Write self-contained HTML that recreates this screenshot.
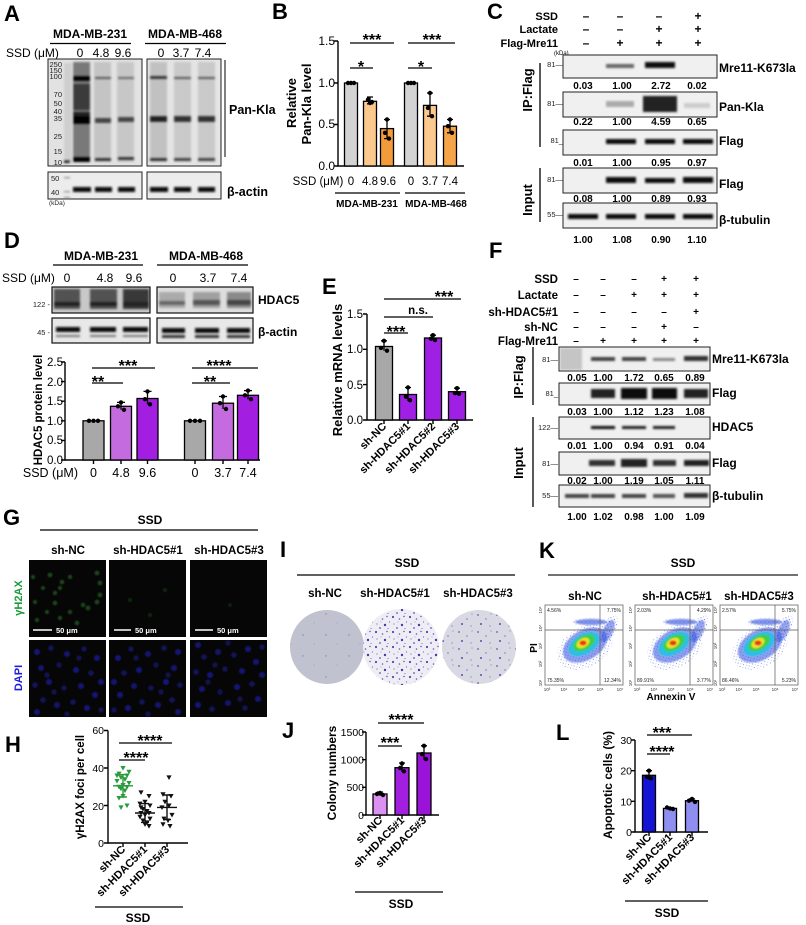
<!DOCTYPE html>
<html><head><meta charset="utf-8">
<style>
html,body{margin:0;padding:0;background:#fff;}
svg{display:block;font-family:"Liberation Sans",Arial,sans-serif;}
.b{font-weight:bold}
</style></head><body>
<svg width="806" height="925" viewBox="0 0 806 925" xmlns="http://www.w3.org/2000/svg">
<defs>
<filter id="f1" x="-50%" y="-100%" width="200%" height="300%"><feGaussianBlur stdDeviation="1.1"/></filter>
<filter id="f2" x="-50%" y="-50%" width="200%" height="200%"><feGaussianBlur stdDeviation="2.2"/></filter>
<filter id="f3" x="-50%" y="-50%" width="200%" height="200%"><feGaussianBlur stdDeviation="0.7"/></filter>
<path id="tri" d="M-2.6,-2 L2.6,-2 L0,2.6 Z"/>
<pattern id="pd1" width="17" height="15" patternUnits="userSpaceOnUse">
<circle cx="2" cy="2" r="1.1" fill="#5a3fb8"/><circle cx="8.5" cy="4" r="0.8" fill="#6b4fc8"/><circle cx="3" cy="9" r="0.6" fill="#7a60d0"/><circle cx="13" cy="1.5" r="0.7" fill="#5a3fb8"/><circle cx="11" cy="10" r="1.2" fill="#4e35a8"/><circle cx="15.5" cy="7" r="0.6" fill="#7a60d0"/><circle cx="6" cy="13" r="0.9" fill="#6b4fc8"/><circle cx="14" cy="13.5" r="0.5" fill="#5a3fb8"/><circle cx="7" cy="7" r="0.4" fill="#5a3fb8"/>
</pattern>
<pattern id="pd2" width="19" height="17" patternUnits="userSpaceOnUse">
<circle cx="3" cy="3" r="0.9" fill="#6a55c0"/><circle cx="11" cy="7" r="0.7" fill="#7a66cc"/><circle cx="16" cy="2" r="0.5" fill="#6a55c0"/><circle cx="6" cy="12" r="1" fill="#5d48b8"/><circle cx="15" cy="14" r="0.6" fill="#7a66cc"/>
</pattern>
<pattern id="pd3" width="23" height="21" patternUnits="userSpaceOnUse">
<circle cx="4" cy="5" r="0.7" fill="#7a70b8"/><circle cx="15" cy="14" r="0.5" fill="#8a80c0"/>
</pattern>
<pattern id="fd" width="4" height="4" patternUnits="userSpaceOnUse"><circle cx="1" cy="1" r="0.45" fill="#2a3fd8"/><circle cx="3" cy="3" r="0.35" fill="#2a3fd8"/></pattern>
<g id="dapi" fill="#2222c8" filter="url(#f3)">
<circle cx="8" cy="12" r="3" opacity=".6"/><circle cx="22" cy="8" r="2.8" opacity=".45"/><circle cx="38" cy="14" r="3" opacity=".55"/><circle cx="55" cy="9" r="2.6" opacity=".45"/><circle cx="68" cy="18" r="3" opacity=".6"/><circle cx="12" cy="28" r="3" opacity=".55"/><circle cx="30" cy="25" r="2.7" opacity=".4"/><circle cx="47" cy="30" r="3" opacity=".6"/><circle cx="62" cy="33" r="2.8" opacity=".45"/><circle cx="72" cy="42" r="3" opacity=".55"/><circle cx="6" cy="45" r="2.8" opacity=".45"/><circle cx="20" cy="42" r="3" opacity=".6"/><circle cx="35" cy="48" r="2.6" opacity=".45"/><circle cx="52" cy="46" r="3" opacity=".55"/><circle cx="66" cy="55" r="3" opacity=".6"/><circle cx="14" cy="60" r="2.8" opacity=".45"/><circle cx="28" cy="65" r="3" opacity=".55"/><circle cx="44" cy="62" r="2.8" opacity=".45"/><circle cx="58" cy="68" r="3" opacity=".6"/><circle cx="72" cy="70" r="2.6" opacity=".45"/><circle cx="8" cy="72" r="3" opacity=".55"/><circle cx="38" cy="74" r="2.6" opacity=".4"/><circle cx="25" cy="52" r="2.6" opacity=".4"/><circle cx="50" cy="18" r="2.6" opacity=".4"/><circle cx="18" cy="35" r="2.6" opacity=".4"/>
</g>
<g id="flow">
<rect x="0" y="0" width="78" height="80" fill="#fff" stroke="#666" stroke-width="0.8"/>
<ellipse cx="40" cy="42" rx="30" ry="20" transform="rotate(-30 40 42)" fill="url(#fd)" opacity=".8"/>
<ellipse cx="46" cy="17" rx="20" ry="4" fill="url(#fd)"/>
<ellipse cx="64" cy="24" rx="7" ry="15" transform="rotate(25 64 24)" fill="url(#fd)"/>
<g filter="url(#f3)">
<ellipse cx="40" cy="40" rx="24" ry="15" transform="rotate(-30 40 40)" fill="#2f4fe0" opacity=".55"/>
<ellipse cx="46" cy="17" rx="16" ry="3" fill="#2f4fe0" opacity=".6"/>
<ellipse cx="63" cy="26" rx="5" ry="12" transform="rotate(25 63 26)" fill="#2f4fe0" opacity=".5"/>
<ellipse cx="39" cy="39" rx="17" ry="10" transform="rotate(-30 39 39)" fill="#1ec6e6" opacity=".85"/>
<ellipse cx="39" cy="38" rx="12" ry="7" transform="rotate(-30 39 38)" fill="#3ed04a"/>
<ellipse cx="38" cy="38" rx="7" ry="4.5" transform="rotate(-30 38 38)" fill="#f0e024"/>
<ellipse cx="38" cy="38" rx="3.5" ry="2.5" fill="#e83a14"/>
</g>
<line x1="55" y1="0" x2="55" y2="80" stroke="#555" stroke-width="0.7"/>
<line x1="0" y1="25" x2="78" y2="25" stroke="#555" stroke-width="0.7"/>
</g>
</defs>
<rect width="806" height="925" fill="#fff"/>

<!-- ================= A ================= -->
<text x="4" y="21" font-size="22" class="b">A</text>
<text x="90" y="38" text-anchor="middle" font-size="12" class="b">MDA-MB-231</text>
<line x1="50" y1="43.5" x2="131" y2="43.5" stroke="#000" stroke-width="1.3"/>
<text x="185" y="38" text-anchor="middle" font-size="12" class="b">MDA-MB-468</text>
<line x1="145" y1="43.5" x2="226" y2="43.5" stroke="#000" stroke-width="1.3"/>
<g font-size="12">
<text x="6" y="57">SSD (μM)</text>
<text x="80" y="57" text-anchor="middle">0</text><text x="101" y="57" text-anchor="middle">4.8</text><text x="123" y="57" text-anchor="middle">9.6</text>
<text x="161" y="57" text-anchor="middle">0</text><text x="181" y="57" text-anchor="middle">3.7</text><text x="203" y="57" text-anchor="middle">7.4</text>
</g>
<rect x="48" y="59" width="94" height="107" fill="#e2e2e2" stroke="#222" stroke-width="1"/>
<rect x="147" y="59" width="74" height="107" fill="#e4e4e4" stroke="#222" stroke-width="1"/>
<g filter="url(#f1)">
<rect x="64" y="63" width="8" height="100" fill="#bbb" opacity=".5"/>
<rect x="73" y="62" width="17" height="100" fill="#333" opacity=".6"/>
<rect x="94" y="62" width="17" height="100" fill="#777" opacity=".28"/>
<rect x="117" y="62" width="17" height="100" fill="#777" opacity=".25"/>
<rect x="150" y="62" width="17" height="100" fill="#777" opacity=".32"/>
<rect x="174" y="62" width="17" height="100" fill="#777" opacity=".25"/>
<rect x="198" y="62" width="17" height="100" fill="#777" opacity=".25"/>
<rect x="73" y="76" width="17" height="5" fill="#000"/>
<rect x="73" y="84" width="17" height="26" fill="#222" opacity=".7"/>
<rect x="73" y="112" width="17" height="4" fill="#222"/>
<rect x="73" y="116" width="17" height="8" fill="#000"/>
<rect x="73" y="157" width="17" height="5" fill="#000"/>
<rect x="95" y="77" width="16" height="2" fill="#555"/>
<rect x="95" y="118" width="16" height="5" fill="#444"/>
<rect x="95" y="158" width="16" height="3" fill="#333"/>
<rect x="118" y="77" width="16" height="2" fill="#666"/>
<rect x="118" y="117" width="16" height="5" fill="#444"/>
<rect x="118" y="157" width="16" height="3" fill="#333"/>
<rect x="150" y="76" width="17" height="3" fill="#333"/>
<rect x="150" y="116" width="17" height="6" fill="#222"/>
<rect x="150" y="158" width="17" height="3" fill="#333"/>
<rect x="174" y="77" width="17" height="2" fill="#555"/>
<rect x="174" y="116" width="17" height="6" fill="#333"/>
<rect x="174" y="158" width="17" height="3" fill="#444"/>
<rect x="198" y="77" width="17" height="2" fill="#555"/>
<rect x="198" y="116" width="17" height="6" fill="#333"/>
<rect x="198" y="158" width="17" height="3" fill="#444"/>
<rect x="64" y="160" width="6" height="3" fill="#222"/>
</g>
<g font-size="7.5" text-anchor="end" fill="#222">
<text x="62" y="67">250</text><text x="62" y="73">150</text><text x="62" y="79">100</text><text x="62" y="97">70</text><text x="62" y="106">50</text><text x="62" y="114">40</text><text x="62" y="121">35</text><text x="62" y="139">25</text><text x="62" y="154">15</text><text x="62" y="165">10</text>
</g>
<line x1="225" y1="60" x2="225" y2="157" stroke="#000" stroke-width="1"/>
<text x="229" y="114" font-size="12.5" class="b">Pan-Kla</text>
<rect x="48" y="172" width="94" height="27" fill="#ececec" stroke="#222" stroke-width="1"/>
<rect x="147" y="172" width="74" height="27" fill="#ececec" stroke="#222" stroke-width="1"/>
<g filter="url(#f1)">
<rect x="73" y="187" width="18" height="5" fill="#111"/><rect x="95" y="187" width="17" height="5" fill="#111"/><rect x="118" y="187" width="17" height="5" fill="#111"/>
<rect x="150" y="187" width="18" height="5" fill="#111"/><rect x="174" y="187" width="17" height="5" fill="#111"/><rect x="198" y="187" width="17" height="5" fill="#111"/>
<rect x="64" y="177" width="6" height="1.5" fill="#999"/><rect x="64" y="191" width="6" height="1.5" fill="#999"/><rect x="64" y="197" width="6" height="1.5" fill="#888"/>
</g>
<g font-size="7.5" fill="#222"><text x="51" y="181">50</text><text x="51" y="195">40</text><text x="49" y="205" font-size="6.5">(kDa)</text></g>
<text x="227" y="196" font-size="12.5" class="b">β-actin</text>

<!-- ================= B ================= -->
<text x="272" y="19" font-size="22" class="b">B</text>
<g class="b" font-size="13">
<text transform="translate(296,103) rotate(-90)" text-anchor="middle">Relative</text>
<text transform="translate(311,104) rotate(-90)" text-anchor="middle">Pan-Kla level</text>
</g>
<g font-size="12" text-anchor="end"><text x="335" y="45">1.5</text><text x="335" y="87">1.0</text><text x="335" y="128">0.5</text><text x="335" y="170">0.0</text></g>
<g stroke="#000" stroke-width="1.4" fill="none">
<path d="M338,41 V166 H464"/>
<path d="M334,41 H338 M334,83 H338 M334,124.5 H338 M334,166 H338"/>
</g>
<g stroke="#000" stroke-width="1.3">
<rect x="344.5" y="83" width="13" height="83" fill="#d3d3d3"/>
<rect x="363.5" y="101.3" width="13" height="64.7" fill="#fbc98e"/>
<rect x="380.5" y="128.6" width="13" height="37.4" fill="#f39b3a"/>
<rect x="404.5" y="83" width="13" height="83" fill="#d3d3d3"/>
<rect x="423.5" y="105.4" width="13" height="60.6" fill="#fbc98e"/>
<rect x="443.5" y="126.2" width="13" height="39.8" fill="#f5a447"/>
<path d="M370,97 V103.8 M367,97 H373 M367,103.8 H373 M387,119.5 V138.6 M384,119.5 H390 M384,138.6 H390 M430,93 V116.2 M427,93 H433 M427,116.2 H433 M450,119.5 V132.8 M447,119.5 H453 M447,132.8 H453" fill="none"/>
</g>
<g fill="#000">
<circle cx="348" cy="83" r="2.2"/><circle cx="351" cy="83" r="2.2"/><circle cx="354" cy="83" r="2.2"/>
<circle cx="368" cy="99.6" r="2.2"/><circle cx="372" cy="102" r="2.2"/><circle cx="370" cy="103" r="2.2"/>
<circle cx="387" cy="119.5" r="2.2"/><circle cx="385" cy="132.8" r="2.2"/><circle cx="389" cy="138.6" r="2.2"/>
<circle cx="408" cy="83" r="2.2"/><circle cx="411" cy="83" r="2.2"/><circle cx="414" cy="83" r="2.2"/>
<circle cx="430" cy="93" r="2.2"/><circle cx="428" cy="107.9" r="2.2"/><circle cx="432" cy="116.2" r="2.2"/>
<circle cx="450" cy="119.5" r="2.2"/><circle cx="448" cy="126.2" r="2.2"/><circle cx="452" cy="132.8" r="2.2"/>
</g>
<g stroke="#000" stroke-width="1.3">
<line x1="350" y1="43" x2="394" y2="43"/><line x1="350" y1="68" x2="373" y2="68"/>
<line x1="408" y1="43" x2="455" y2="43"/><line x1="408" y1="68" x2="432" y2="68"/>
</g>
<g font-size="16" class="b" text-anchor="middle">
<text x="372" y="45">***</text><text x="361" y="72">*</text>
<text x="432" y="45">***</text><text x="421" y="72">*</text>
</g>
<g font-size="11.5" text-anchor="middle">
<text x="318" y="185">SSD (μM)</text>
<text x="351" y="185">0</text><text x="370" y="185">4.8</text><text x="388" y="185">9.6</text>
<text x="411" y="185">0</text><text x="430" y="185">3.7</text><text x="450" y="185">7.4</text>
</g>
<line x1="335" y1="193" x2="400" y2="193" stroke="#000" stroke-width="1.2"/>
<line x1="405" y1="193" x2="465" y2="193" stroke="#000" stroke-width="1.2"/>
<g font-size="10" class="b" text-anchor="middle"><text x="367" y="207">MDA-MB-231</text><text x="436" y="207">MDA-MB-468</text></g>

<!-- ================= C ================= -->
<text x="487" y="19" font-size="22" class="b">C</text>
<g font-size="11" class="b" text-anchor="end">
<text x="558" y="20">SSD</text><text x="558" y="33">Lactate</text><text x="558" y="47">Flag-Mre11</text>
</g>
<g font-size="12" class="b" text-anchor="middle">
<text x="586" y="20">–</text><text x="620" y="20">–</text><text x="659" y="20">–</text><text x="698" y="20">+</text>
<text x="586" y="33">–</text><text x="620" y="33">–</text><text x="659" y="33">+</text><text x="698" y="33">+</text>
<text x="586" y="47">–</text><text x="620" y="47">+</text><text x="659" y="47">+</text><text x="698" y="47">+</text>
</g>
<text x="554" y="55" font-size="6">(kDa)</text>
<g fill="#f0f0f0" stroke="#222" stroke-width="1">
<rect x="563" y="55" width="154" height="23"/>
<rect x="563" y="92" width="154" height="25"/>
<rect x="563" y="130" width="154" height="25"/>
<rect x="563" y="168" width="154" height="25"/>
<rect x="563" y="203" width="154" height="25"/>
</g>
<g filter="url(#f1)">
<rect x="606" y="64" width="28" height="4" fill="#666"/>
<rect x="645" y="62" width="30" height="6" fill="#111"/>
<rect x="606" y="101" width="28" height="6" fill="#aaa"/>
<rect x="643" y="96" width="34" height="16" fill="#222"/>
<rect x="684" y="103" width="26" height="5" fill="#ccc"/>
<rect x="606" y="139" width="30" height="5" fill="#111"/><rect x="645" y="139" width="30" height="5" fill="#111"/><rect x="683" y="139" width="30" height="5" fill="#111"/>
<rect x="606" y="177" width="30" height="6" fill="#111"/><rect x="645" y="178" width="30" height="5" fill="#111"/><rect x="683" y="177" width="30" height="6" fill="#111"/>
<rect x="568" y="214" width="30" height="5" fill="#111"/><rect x="606" y="214" width="30" height="5" fill="#111"/><rect x="645" y="214" width="30" height="5" fill="#111"/><rect x="683" y="214" width="30" height="5" fill="#111"/>
</g>
<g font-size="7.5" text-anchor="end" fill="#222">
<text x="563" y="67">81—</text><text x="563" y="106">81—</text><text x="563" y="143">81_</text><text x="563" y="182">81—</text><text x="563" y="217">55—</text>
</g>
<g font-size="12" class="b">
<text x="719" y="72">Mre11-K673la</text><text x="719" y="111">Pan-Kla</text><text x="719" y="145">Flag</text><text x="719" y="188">Flag</text><text x="719" y="224">β-tubulin</text>
</g>
<g font-size="10" class="b" text-anchor="middle">
<text x="583" y="89">0.03</text><text x="622" y="89">1.00</text><text x="661" y="89">2.72</text><text x="697" y="89">0.02</text>
<text x="583" y="125">0.22</text><text x="622" y="125">1.00</text><text x="661" y="125">4.59</text><text x="697" y="125">0.65</text>
<text x="583" y="166">0.01</text><text x="622" y="166">1.00</text><text x="661" y="166">0.95</text><text x="697" y="166">0.97</text>
<text x="583" y="202">0.08</text><text x="622" y="202">1.00</text><text x="661" y="202">0.89</text><text x="697" y="202">0.93</text>
<text x="583" y="243">1.00</text><text x="622" y="243">1.08</text><text x="661" y="243">0.90</text><text x="697" y="243">1.10</text>
</g>
<line x1="540" y1="63" x2="540" y2="147" stroke="#000" stroke-width="1.3"/>
<line x1="540" y1="168" x2="540" y2="222" stroke="#000" stroke-width="1.3"/>
<g font-size="13" class="b" text-anchor="middle">
<text transform="translate(532,90) rotate(-90)">IP:Flag</text>
<text transform="translate(532,200) rotate(-90)">Input</text>
</g>

<!-- ================= D ================= -->
<text x="4" y="248" font-size="22" class="b">D</text>
<text x="101" y="260" text-anchor="middle" font-size="12" class="b">MDA-MB-231</text>
<line x1="53" y1="265" x2="143" y2="265" stroke="#000" stroke-width="1.3"/>
<text x="206" y="260" text-anchor="middle" font-size="12" class="b">MDA-MB-468</text>
<line x1="157" y1="265" x2="248" y2="265" stroke="#000" stroke-width="1.3"/>
<g font-size="12">
<text x="2" y="282">SSD (μM)</text>
<text x="67" y="282" text-anchor="middle">0</text><text x="105" y="282" text-anchor="middle">4.8</text><text x="134" y="282" text-anchor="middle">9.6</text>
<text x="173" y="282" text-anchor="middle">0</text><text x="208" y="282" text-anchor="middle">3.7</text><text x="239" y="282" text-anchor="middle">7.4</text>
</g>
<rect x="52" y="287" width="98" height="26" fill="#c8c8c8" stroke="#111" stroke-width="1.2"/>
<rect x="157" y="287" width="96" height="26" fill="#dedede" stroke="#111" stroke-width="1.2"/>
<g filter="url(#f1)">
<rect x="54" y="289" width="26" height="20" fill="#333" opacity=".8"/>
<rect x="90" y="289" width="27" height="20" fill="#333" opacity=".8"/>
<rect x="123" y="289" width="26" height="20" fill="#222" opacity=".85"/>
<rect x="54" y="302" width="26" height="4" fill="#222"/><rect x="90" y="302" width="27" height="4" fill="#222"/><rect x="123" y="302" width="26" height="4" fill="#222"/>
<rect x="159" y="292" width="26" height="16" fill="#888" opacity=".6"/>
<rect x="193" y="292" width="27" height="16" fill="#777" opacity=".6"/>
<rect x="227" y="292" width="24" height="16" fill="#666" opacity=".7"/>
<rect x="159" y="301" width="26" height="4" fill="#666"/><rect x="193" y="300" width="27" height="5" fill="#555"/><rect x="227" y="300" width="24" height="5" fill="#444"/>
</g>
<rect x="52" y="318" width="98" height="25" fill="#e8e8e8" stroke="#111" stroke-width="1.2"/>
<rect x="157" y="318" width="96" height="25" fill="#e8e8e8" stroke="#111" stroke-width="1.2"/>
<g filter="url(#f1)">
<rect x="56" y="327" width="24" height="5" fill="#111"/><rect x="90" y="327" width="26" height="5" fill="#111"/><rect x="123" y="327" width="25" height="5" fill="#111"/>
<rect x="56" y="335" width="24" height="2" fill="#777"/><rect x="90" y="335" width="26" height="2" fill="#777"/><rect x="123" y="335" width="25" height="2" fill="#777"/>
<rect x="162" y="328" width="23" height="5" fill="#111"/><rect x="195" y="328" width="24" height="5" fill="#111"/><rect x="227" y="328" width="23" height="5" fill="#111"/>
<rect x="162" y="335" width="23" height="3" fill="#333"/><rect x="195" y="335" width="24" height="3" fill="#333"/><rect x="227" y="335" width="23" height="3" fill="#333"/>
</g>
<g font-size="7.5" text-anchor="end" fill="#222"><text x="50" y="307">122 -</text><text x="50" y="335">45 -</text></g>
<text x="258" y="304" font-size="12" class="b">HDAC5</text>
<text x="258" y="336" font-size="12" class="b">β-actin</text>
<text transform="translate(42,410) rotate(-90)" text-anchor="middle" font-size="11.5" class="b">HDAC5 protein level</text>
<g font-size="11.5" text-anchor="end"><text x="63" y="366">2.5</text><text x="63" y="386">2.0</text><text x="63" y="405">1.5</text><text x="63" y="425">1.0</text><text x="63" y="444">0.5</text><text x="63" y="464">0.0</text></g>
<g stroke="#000" stroke-width="1.4" fill="none">
<path d="M65,362 V460 H260"/>
<path d="M61,362 H65 M61,381.6 H65 M61,401.2 H65 M61,420.8 H65 M61,440.4 H65 M61,460 H65"/>
<path d="M93.5,460 V464 M121,460 V464 M147.5,460 V464 M195,460 V464 M223,460 V464 M248,460 V464"/>
</g>
<g stroke="#000" stroke-width="1.3">
<rect x="83" y="420.8" width="21" height="39.2" fill="#a8a8a8"/>
<rect x="110.5" y="406.3" width="21" height="53.7" fill="#c46be0"/>
<rect x="137" y="398.5" width="21" height="61.5" fill="#a21fe2"/>
<rect x="184.5" y="420.8" width="21" height="39.2" fill="#a8a8a8"/>
<rect x="212.5" y="403.2" width="21" height="56.8" fill="#c46be0"/>
<rect x="237.5" y="395.3" width="21" height="64.7" fill="#a21fe2"/>
<path d="M121,402.4 V409.8 M117,402.4 H125 M147.5,391.4 V404.3 M143.5,391.4 H151.5 M223,396.5 V409 M219,396.5 H227 M248,390.6 V399.2 M244,390.6 H252" fill="none"/>
</g>
<g fill="#000">
<circle cx="89" cy="420.8" r="2.2"/><circle cx="93.5" cy="420.8" r="2.2"/><circle cx="98" cy="420.8" r="2.2"/>
<circle cx="121" cy="402.4" r="2.2"/><circle cx="118" cy="406.3" r="2.2"/><circle cx="124" cy="409.8" r="2.2"/>
<circle cx="147.5" cy="391.4" r="2.2"/><circle cx="145" cy="399.2" r="2.2"/><circle cx="150" cy="404.3" r="2.2"/>
<circle cx="190" cy="420.8" r="2.2"/><circle cx="195" cy="420.8" r="2.2"/><circle cx="200" cy="420.8" r="2.2"/>
<circle cx="223" cy="396.5" r="2.2"/><circle cx="220" cy="403.2" r="2.2"/><circle cx="226" cy="409" r="2.2"/>
<circle cx="248" cy="390.6" r="2.2"/><circle cx="245" cy="395.3" r="2.2"/><circle cx="251" cy="399.2" r="2.2"/>
</g>
<g stroke="#000" stroke-width="1.3">
<line x1="92" y1="368" x2="155" y2="368"/><line x1="92" y1="383" x2="123" y2="383"/>
<line x1="192" y1="368" x2="258" y2="368"/><line x1="192" y1="383" x2="230" y2="383"/>
</g>
<g font-size="16" class="b" text-anchor="middle">
<text x="128" y="371">***</text><text x="98" y="387">**</text>
<text x="219" y="371">****</text><text x="210" y="387">**</text>
</g>
<g font-size="12.5" text-anchor="middle">
<text x="78" y="477" text-anchor="end">SSD (μM)</text>
<text x="93.5" y="477">0</text><text x="121" y="477">4.8</text><text x="147.5" y="477">9.6</text>
<text x="195" y="477">0</text><text x="223" y="477">3.7</text><text x="248" y="477">7.4</text>
</g>

<!-- ================= E ================= -->
<text x="322" y="294" font-size="22" class="b">E</text>
<text transform="translate(342,370) rotate(-90)" text-anchor="middle" font-size="13" class="b">Relative mRNA levels</text>
<g font-size="11.5" text-anchor="end"><text x="363" y="318">1.5</text><text x="363" y="353">1.0</text><text x="363" y="389">0.5</text><text x="363" y="424">0.0</text></g>
<g stroke="#000" stroke-width="1.4" fill="none">
<path d="M367,314 V420 H473"/>
<path d="M363,314 H367 M363,349.3 H367 M363,384.6 H367 M363,420 H367"/>
<path d="M384,420 V424 M408,420 V424 M433,420 V424 M457,420 V424"/>
</g>
<g stroke="#000" stroke-width="1.3">
<rect x="375.5" y="346.5" width="17" height="73.5" fill="#a8a8a8"/>
<rect x="399.5" y="394.5" width="17" height="25.5" fill="#a01fe4"/>
<rect x="424.5" y="338" width="17" height="82" fill="#a01fe4"/>
<rect x="448.5" y="391.7" width="17" height="28.3" fill="#a01fe4"/>
<path d="M384,340.8 V350.7 M381,340.8 H387 M408,387.5 V401 M405,387.5 H411 M433,335.2 V340.1 M430,335.2 H436 M457,388.2 V394.5 M454,388.2 H460" fill="none"/>
</g>
<g fill="#000">
<circle cx="384" cy="340.8" r="2.2"/><circle cx="381" cy="347.9" r="2.2"/><circle cx="387" cy="350.7" r="2.2"/>
<circle cx="408" cy="387.5" r="2.2"/><circle cx="406" cy="396.7" r="2.2"/><circle cx="410" cy="400.2" r="2.2"/>
<circle cx="433" cy="335.2" r="2.2"/><circle cx="431" cy="338.7" r="2.2"/><circle cx="435" cy="340.1" r="2.2"/>
<circle cx="457" cy="388.2" r="2.2"/><circle cx="455" cy="393.1" r="2.2"/><circle cx="459" cy="393.8" r="2.2"/>
</g>
<g stroke="#000" stroke-width="1.3">
<line x1="384" y1="299" x2="461" y2="299"/><line x1="384" y1="317" x2="433" y2="317"/><line x1="384" y1="333" x2="408" y2="333"/>
</g>
<g font-size="16" class="b" text-anchor="middle"><text x="444" y="302">***</text><text x="396" y="337">***</text></g>
<text x="418" y="314" font-size="11.5" class="b" text-anchor="middle">n.s.</text>
<g font-size="11" class="b" text-anchor="end">
<text transform="translate(387,427) rotate(-45)">sh-NC</text>
<text transform="translate(411,427) rotate(-45)">sh-HDAC5#1</text>
<text transform="translate(436,427) rotate(-45)">sh-HDAC5#2</text>
<text transform="translate(460,427) rotate(-45)">sh-HDAC5#3</text>
</g>

<!-- ================= F ================= -->
<text x="489" y="258" font-size="22" class="b">F</text>
<g font-size="11.5" class="b" text-anchor="end">
<text x="558" y="283">SSD</text><text x="558" y="299">Lactate</text><text x="558" y="316">sh-HDAC5#1</text><text x="558" y="331">sh-NC</text><text x="558" y="345">Flag-Mre11</text>
</g>
<g font-size="10" class="b" text-anchor="middle">
<text x="576" y="282">–</text><text x="603" y="282">–</text><text x="634" y="282">–</text><text x="664" y="282">+</text><text x="696" y="282">+</text>
<text x="576" y="298">–</text><text x="603" y="298">–</text><text x="634" y="298">+</text><text x="664" y="298">+</text><text x="696" y="298">+</text>
<text x="576" y="315">–</text><text x="603" y="315">–</text><text x="634" y="315">–</text><text x="664" y="315">–</text><text x="696" y="315">+</text>
<text x="576" y="330">–</text><text x="603" y="330">–</text><text x="634" y="330">–</text><text x="664" y="330">+</text><text x="696" y="330">–</text>
<text x="576" y="344">–</text><text x="603" y="344">+</text><text x="634" y="344">+</text><text x="664" y="344">+</text><text x="696" y="344">+</text>
</g>
<g fill="#f0f0f0" stroke="#222" stroke-width="1">
<rect x="559" y="347" width="151" height="24"/>
<rect x="559" y="383" width="151" height="22"/>
<rect x="559" y="417" width="151" height="22"/>
<rect x="559" y="452" width="151" height="23"/>
<rect x="559" y="485" width="151" height="22"/>
</g>
<g filter="url(#f1)">
<rect x="560" y="348" width="22" height="22" fill="#999" opacity=".5"/>
<rect x="591" y="357" width="24" height="4" fill="#444"/><rect x="622" y="357" width="24" height="4" fill="#444"/><rect x="653" y="358" width="22" height="3" fill="#888"/><rect x="684" y="356" width="24" height="5" fill="#333"/>
<rect x="591" y="389" width="24" height="9" fill="#222"/><rect x="621" y="388" width="26" height="11" fill="#111"/><rect x="652" y="388" width="25" height="11" fill="#111"/><rect x="684" y="389" width="24" height="9" fill="#222"/>
<rect x="591" y="426" width="24" height="3" fill="#111"/><rect x="622" y="426" width="24" height="3" fill="#222"/><rect x="653" y="426" width="22" height="3" fill="#222"/>
<rect x="589" y="460" width="26" height="6" fill="#333"/><rect x="621" y="459" width="26" height="8" fill="#222"/><rect x="653" y="460" width="23" height="6" fill="#333"/><rect x="684" y="460" width="25" height="6" fill="#222"/>
<rect x="565" y="494" width="24" height="4" fill="#444"/><rect x="591" y="494" width="24" height="4" fill="#444"/><rect x="622" y="494" width="24" height="4" fill="#444"/><rect x="653" y="494" width="22" height="4" fill="#555"/><rect x="684" y="493" width="24" height="5" fill="#333"/>
</g>
<g font-size="7.5" text-anchor="end" fill="#222">
<text x="558" y="362">81—</text><text x="558" y="396">81_</text><text x="558" y="430">122—</text><text x="558" y="466">81—</text><text x="558" y="498">55—</text>
</g>
<g font-size="12" class="b">
<text x="712" y="363">Mre11-K673la</text><text x="712" y="397">Flag</text><text x="712" y="431">HDAC5</text><text x="712" y="467">Flag</text><text x="712" y="500">β-tubulin</text>
</g>
<g font-size="10" class="b" text-anchor="middle">
<text x="577" y="381">0.05</text><text x="603" y="381">1.00</text><text x="634" y="381">1.72</text><text x="664" y="381">0.65</text><text x="695" y="381">0.89</text>
<text x="577" y="415">0.03</text><text x="603" y="415">1.00</text><text x="634" y="415">1.12</text><text x="664" y="415">1.23</text><text x="695" y="415">1.08</text>
<text x="577" y="449">0.01</text><text x="603" y="449">1.00</text><text x="634" y="449">0.94</text><text x="664" y="449">0.91</text><text x="695" y="449">0.04</text>
<text x="577" y="484">0.02</text><text x="603" y="484">1.00</text><text x="634" y="484">1.19</text><text x="664" y="484">1.05</text><text x="695" y="484">1.11</text>
<text x="577" y="520">1.00</text><text x="603" y="520">1.02</text><text x="634" y="520">0.98</text><text x="664" y="520">1.00</text><text x="695" y="520">1.09</text>
</g>
<line x1="533" y1="347" x2="533" y2="405" stroke="#000" stroke-width="1.3"/>
<line x1="533" y1="417" x2="533" y2="507" stroke="#000" stroke-width="1.3"/>
<g font-size="13" class="b" text-anchor="middle">
<text transform="translate(523,377) rotate(-90)">IP:Flag</text>
<text transform="translate(523,463) rotate(-90)">Input</text>
</g>

<!-- ================= G ================= -->
<text x="3" y="525" font-size="22" class="b">G</text>
<text x="150" y="524" font-size="12" class="b" text-anchor="middle">SSD</text>
<line x1="40" y1="530" x2="258" y2="530" stroke="#000" stroke-width="1.3"/>
<g font-size="11.5" class="b" text-anchor="middle">
<text x="68" y="554">sh-NC</text><text x="148" y="554">sh-HDAC5#1</text><text x="229" y="554">sh-HDAC5#3</text>
</g>
<g fill="#060606">
<rect x="29" y="560" width="77" height="77"/><rect x="109" y="560" width="77" height="77"/><rect x="190" y="560" width="77" height="77"/>
<rect x="29" y="640" width="77" height="77"/><rect x="109" y="640" width="77" height="77"/><rect x="190" y="640" width="77" height="77"/>
</g>
<g fill="#2f7a2f" filter="url(#f3)" opacity=".55">
<circle cx="50" cy="575" r="2.4"/><circle cx="33" cy="577" r="2.1"/><circle cx="62" cy="582" r="2.3"/><circle cx="70" cy="577" r="2.2"/><circle cx="97" cy="573" r="2.4"/><circle cx="100" cy="583" r="2.4"/><circle cx="55" cy="593" r="2.2"/><circle cx="43" cy="588" r="2"/><circle cx="60" cy="588" r="2.1"/><circle cx="100" cy="595" r="2.4"/><circle cx="35" cy="602" r="2.1"/><circle cx="55" cy="603" r="2.3"/><circle cx="83" cy="605" r="2.2"/><circle cx="97" cy="602" r="2.4"/><circle cx="47" cy="612" r="2.1"/><circle cx="70" cy="612" r="2.2"/><circle cx="88" cy="608" r="2.4"/><circle cx="60" cy="618" r="2.2"/><circle cx="77" cy="623" r="2.3"/><circle cx="37" cy="620" r="2.1"/>
</g>
<g fill="#1f4a1f" filter="url(#f3)" opacity=".5">
<circle cx="130" cy="600" r="2"/><circle cx="165" cy="590" r="2"/><circle cx="150" cy="615" r="2"/><circle cx="230" cy="605" r="1.8"/>
</g>
<g stroke="#fff" stroke-width="1.5"><line x1="33" y1="630" x2="52" y2="630"/><line x1="114" y1="630" x2="131" y2="630"/><line x1="195" y1="630" x2="213" y2="630"/></g>
<g font-size="7.5" class="b" fill="#fff"><text x="56" y="633">50 μm</text><text x="135" y="633">50 μm</text><text x="217" y="633">50 μm</text></g>
<use href="#dapi" x="29" y="640"/>
<use href="#dapi" transform="translate(186,640) scale(-1,1)"/>
<use href="#dapi" transform="translate(190,717) scale(1,-1)"/>
<text transform="translate(22,598) rotate(-90)" text-anchor="middle" font-size="11" class="b" fill="#1a9a3a">γH2AX</text>
<text transform="translate(22,678) rotate(-90)" text-anchor="middle" font-size="11" class="b" fill="#1a1ae0">DAPI</text>

<!-- ================= H ================= -->
<text x="5" y="752" font-size="22" class="b">H</text>
<text transform="translate(84,787) rotate(-90)" text-anchor="middle" font-size="11.5" class="b">γH2AX foci per cell</text>
<g font-size="10.5" text-anchor="end"><text x="104" y="734">60</text><text x="104" y="772">40</text><text x="104" y="810">20</text><text x="104" y="847">0</text></g>
<g stroke="#000" stroke-width="1.4" fill="none">
<path d="M108,730.5 V843 H188"/>
<path d="M104,730.5 H108 M104,768 H108 M104,805.5 H108 M104,843 H108"/>
<path d="M123,843 V847 M145,843 V847 M167,843 V847"/>
</g>
<g fill="#2a9a3a">
<use href="#tri" x="123" y="768"/><use href="#tri" x="119" y="773.6"/><use href="#tri" x="127" y="775.5"/><use href="#tri" x="121" y="777.4"/><use href="#tri" x="125" y="779.3"/><use href="#tri" x="117" y="781"/><use href="#tri" x="129" y="783"/><use href="#tri" x="123" y="785"/><use href="#tri" x="119" y="786.8"/><use href="#tri" x="127" y="787"/><use href="#tri" x="121" y="788.6"/><use href="#tri" x="125" y="790.5"/><use href="#tri" x="123" y="796"/><use href="#tri" x="119" y="798"/><use href="#tri" x="127" y="805.5"/><use href="#tri" x="121" y="807.4"/><use href="#tri" x="129" y="771.8"/><use href="#tri" x="117" y="775.5"/>
</g>
<g fill="#111">
<use href="#tri" x="141" y="792.4"/><use href="#tri" x="149" y="796"/><use href="#tri" x="145" y="801.8"/><use href="#tri" x="140" y="803.6"/><use href="#tri" x="150" y="805.5"/><use href="#tri" x="143" y="809"/><use href="#tri" x="147" y="811"/><use href="#tri" x="141" y="813"/><use href="#tri" x="149" y="813"/><use href="#tri" x="145" y="814.9"/><use href="#tri" x="140" y="816.8"/><use href="#tri" x="150" y="818.6"/><use href="#tri" x="143" y="820.5"/><use href="#tri" x="147" y="822.4"/><use href="#tri" x="145" y="824.3"/><use href="#tri" x="149" y="826"/><use href="#tri" x="141" y="807.4"/>
<use href="#tri" x="169" y="777.4"/><use href="#tri" x="163" y="794.3"/><use href="#tri" x="171" y="796"/><use href="#tri" x="165" y="801.8"/><use href="#tri" x="169" y="805.5"/><use href="#tri" x="162" y="807.4"/><use href="#tri" x="172" y="814.9"/><use href="#tri" x="164" y="818.6"/><use href="#tri" x="168" y="820.5"/><use href="#tri" x="163" y="824.3"/><use href="#tri" x="170" y="826"/>
</g>
<g stroke="#2a9a3a" stroke-width="1.4"><path d="M113,785.8 H133 M123,774.6 V797 M119,774.6 H127 M119,797 H127"/></g>
<g stroke="#111" stroke-width="1.4"><path d="M135,813 H155 M145,803.6 V822.4 M141,803.6 H149 M141,822.4 H149 M157,807.4 H177 M167,795 V819.6 M163,795 H171 M163,819.6 H171"/></g>
<g stroke="#000" stroke-width="1.3"><line x1="119" y1="743" x2="172" y2="743"/><line x1="119" y1="760" x2="145" y2="760"/></g>
<g font-size="16" class="b" text-anchor="middle"><text x="150" y="746">****</text><text x="136" y="763">****</text></g>
<g font-size="11" class="b" text-anchor="end">
<text transform="translate(126,850) rotate(-45)">sh-NC</text>
<text transform="translate(148,850) rotate(-45)">sh-HDAC5#1</text>
<text transform="translate(170,850) rotate(-45)">sh-HDAC5#3</text>
</g>
<line x1="95" y1="907" x2="183" y2="907" stroke="#000" stroke-width="1.3"/>
<text x="138" y="922" font-size="12" class="b" text-anchor="middle">SSD</text>

<!-- ================= I ================= -->
<text x="280" y="557" font-size="22" class="b">I</text>
<text x="407" y="567" font-size="12" class="b" text-anchor="middle">SSD</text>
<line x1="297" y1="575" x2="515" y2="575" stroke="#000" stroke-width="1.3"/>
<g font-size="11.5" class="b" text-anchor="middle">
<text x="325" y="597">sh-NC</text><text x="395" y="597">sh-HDAC5#1</text><text x="478" y="597">sh-HDAC5#3</text>
</g>
<circle cx="327" cy="647" r="37" fill="#c0c2cf"/>
<circle cx="327" cy="647" r="37" fill="url(#pd3)" opacity=".8"/>
<circle cx="401" cy="647" r="38" fill="#eeedf4"/>
<circle cx="401" cy="647" r="38" fill="url(#pd1)"/>
<circle cx="479" cy="647" r="37" fill="#d9d9e3"/>
<circle cx="479" cy="647" r="37" fill="url(#pd2)"/>

<!-- ================= J ================= -->
<text x="282" y="738" font-size="22" class="b">J</text>
<text transform="translate(336,773) rotate(-90)" text-anchor="middle" font-size="12" class="b">Colony numbers</text>
<g font-size="10.5" text-anchor="end"><text x="364" y="736">1500</text><text x="364" y="763.7">1000</text><text x="364" y="791">500</text><text x="364" y="819">0</text></g>
<g stroke="#000" stroke-width="1.4" fill="none">
<path d="M366,732 V815 H439"/>
<path d="M362,732 H366 M362,759.7 H366 M362,787.3 H366 M362,815 H366"/>
<path d="M380,815 V819 M402,815 V819 M424,815 V819"/>
</g>
<g stroke="#000" stroke-width="1.3">
<rect x="373" y="794" width="14" height="21" fill="#dc90f2"/>
<rect x="395" y="767.7" width="14" height="47.3" fill="#a31fe0"/>
<rect x="417" y="753" width="14" height="62" fill="#9b12d8"/>
<path d="M380,792 V796 M377,792 H383 M402,763 V772 M399,763 H405 M424,745.8 V760 M421,745.8 H427" fill="none"/>
</g>
<g fill="#000">
<circle cx="377" cy="794" r="2.2"/><circle cx="380" cy="793" r="2.2"/><circle cx="383" cy="795" r="2.2"/>
<circle cx="402" cy="763.5" r="2.2"/><circle cx="400" cy="768" r="2.2"/><circle cx="404" cy="771.3" r="2.2"/>
<circle cx="424" cy="745.8" r="2.2"/><circle cx="422" cy="754.1" r="2.2"/><circle cx="426" cy="759.1" r="2.2"/>
</g>
<g stroke="#000" stroke-width="1.3"><line x1="378" y1="723" x2="424" y2="723"/><line x1="378" y1="746" x2="402" y2="746"/></g>
<g font-size="16" class="b" text-anchor="middle"><text x="401" y="725">****</text><text x="390" y="748">***</text></g>
<g font-size="11" class="b" text-anchor="end">
<text transform="translate(383,821) rotate(-45)">sh-NC</text>
<text transform="translate(405,821) rotate(-45)">sh-HDAC5#1</text>
<text transform="translate(427,821) rotate(-45)">sh-HDAC5#3</text>
</g>
<line x1="355" y1="892" x2="443" y2="892" stroke="#000" stroke-width="1.3"/>
<text x="401" y="908" font-size="12" class="b" text-anchor="middle">SSD</text>

<!-- ================= K ================= -->
<text x="539" y="558" font-size="22" class="b">K</text>
<text x="683" y="567" font-size="12" class="b" text-anchor="middle">SSD</text>
<line x1="548" y1="575" x2="798" y2="575" stroke="#444" stroke-width="1.5"/>
<g font-size="11.5" class="b" text-anchor="middle">
<text x="585" y="600">sh-NC</text><text x="677" y="600">sh-HDAC5#1</text><text x="759" y="600">sh-HDAC5#3</text>
</g>
<use href="#flow" x="545" y="605"/>
<use href="#flow" x="635" y="605"/>
<use href="#flow" x="720" y="605"/>
<g font-size="5" fill="#222">
<text x="547" y="612">4.56%</text><text x="621" y="612" text-anchor="end">7.75%</text><text x="547" y="682">75.35%</text><text x="621" y="682" text-anchor="end">12.34%</text>
<text x="637" y="612">2.03%</text><text x="711" y="612" text-anchor="end">4.29%</text><text x="637" y="682">89.91%</text><text x="711" y="682" text-anchor="end">3.77%</text>
<text x="722" y="612">2.57%</text><text x="796" y="612" text-anchor="end">5.75%</text><text x="722" y="682">86.46%</text><text x="796" y="682" text-anchor="end">5.23%</text>
</g>
<g font-size="4.5" fill="#333" text-anchor="middle">
<text x="547" y="691">10³</text><text x="564" y="691">10⁴</text><text x="581" y="691">10⁵</text><text x="600" y="691">10⁶</text><text x="620" y="691">10⁷</text>
<text x="637" y="691">10³</text><text x="654" y="691">10⁴</text><text x="671" y="691">10⁵</text><text x="690" y="691">10⁶</text><text x="710" y="691">10⁷</text>
<text x="722" y="691">10³</text><text x="739" y="691">10⁴</text><text x="756" y="691">10⁵</text><text x="775" y="691">10⁶</text><text x="795" y="691">10⁷</text>
</g>
<g font-size="4.5" fill="#333" text-anchor="middle">
<text transform="translate(542,683) rotate(-90)">10¹</text><text transform="translate(542,664) rotate(-90)">10²</text><text transform="translate(542,646) rotate(-90)">10³</text><text transform="translate(542,628) rotate(-90)">10⁴</text><text transform="translate(542,610) rotate(-90)">10⁵</text>
<text transform="translate(632,683) rotate(-90)">10¹</text><text transform="translate(632,664) rotate(-90)">10²</text><text transform="translate(632,646) rotate(-90)">10³</text><text transform="translate(632,628) rotate(-90)">10⁴</text><text transform="translate(632,610) rotate(-90)">10⁵</text>
<text transform="translate(717,683) rotate(-90)">10¹</text><text transform="translate(717,664) rotate(-90)">10²</text><text transform="translate(717,646) rotate(-90)">10³</text><text transform="translate(717,628) rotate(-90)">10⁴</text><text transform="translate(717,610) rotate(-90)">10⁵</text>
</g>
<text transform="translate(537,648) rotate(-90)" text-anchor="middle" font-size="10" class="b">PI</text>
<text x="671" y="700" font-size="10" class="b" text-anchor="middle">Annexin V</text>

<!-- ================= L ================= -->
<text x="556" y="740" font-size="22" class="b">L</text>
<text transform="translate(612,785) rotate(-90)" text-anchor="middle" font-size="12" class="b">Apoptotic cells (%)</text>
<g font-size="10.5" text-anchor="end"><text x="632" y="744">30</text><text x="632" y="774.7">20</text><text x="632" y="805.3">10</text><text x="632" y="836">0</text></g>
<g stroke="#000" stroke-width="1.4" fill="none">
<path d="M635,740 V832 H708"/>
<path d="M631,740 H635 M631,770.7 H635 M631,801.3 H635 M631,832 H635"/>
<path d="M649,832 V836 M670,832 V836 M692,832 V836"/>
</g>
<g stroke="#000" stroke-width="1.3">
<rect x="642.5" y="775.3" width="13" height="56.7" fill="#1414d4"/>
<rect x="663.5" y="808.4" width="13" height="23.6" fill="#8f8ff2"/>
<rect x="685.5" y="800.7" width="13" height="31.3" fill="#8f8ff2"/>
<path d="M649,770.7 V779.9 M646,770.7 H652 M692,798.9 V801.9 M689,798.9 H695" fill="none"/>
</g>
<g fill="#000">
<circle cx="649" cy="770.7" r="2.2"/><circle cx="647" cy="776.8" r="2.2"/><circle cx="651" cy="778.3" r="2.2"/>
<circle cx="667" cy="807.5" r="2.2"/><circle cx="670" cy="808.4" r="2.2"/><circle cx="673" cy="809" r="2.2"/>
<circle cx="692" cy="798.9" r="2.2"/><circle cx="689" cy="800.7" r="2.2"/><circle cx="695" cy="801.9" r="2.2"/>
</g>
<g stroke="#000" stroke-width="1.3"><line x1="647" y1="735" x2="692" y2="735"/><line x1="647" y1="754" x2="670" y2="754"/></g>
<g font-size="16" class="b" text-anchor="middle"><text x="662" y="738">***</text><text x="662" y="757">****</text></g>
<g font-size="11" class="b" text-anchor="end">
<text transform="translate(652,838) rotate(-45)">sh-NC</text>
<text transform="translate(673,838) rotate(-45)">sh-HDAC5#1</text>
<text transform="translate(695,838) rotate(-45)">sh-HDAC5#3</text>
</g>
<line x1="625" y1="901" x2="708" y2="901" stroke="#000" stroke-width="1.3"/>
<text x="667" y="917" font-size="12" class="b" text-anchor="middle">SSD</text>
</svg>
</body></html>
